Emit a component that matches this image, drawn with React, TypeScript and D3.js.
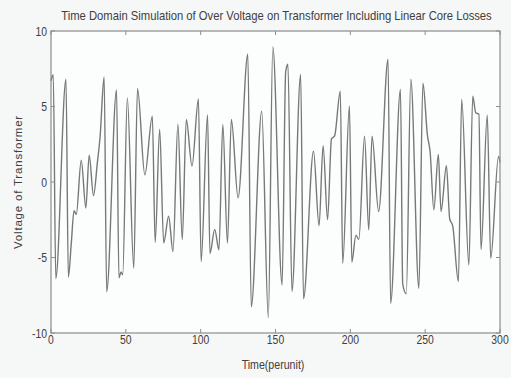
import React from "react";
import * as d3 from "d3";

const time: number[] = [
  0, 1.5, 3.2, 10, 11.6, 13.6, 15.4, 16.9, 20.2, 23.3, 25.5, 28.4, 31, 32.8, 35.5, 37.2,
  43.8, 45.4, 46.8, 47.9, 51, 55.3, 57.8, 62.7, 67.7, 69.6, 72.6, 75.3, 78.6, 81.5,
  84.8, 87.7, 90.4, 94.2, 98.5, 100.3, 104.6, 106.2, 109.4, 112.2, 114.8, 117.9,
  120.5, 125, 131.5, 133.8, 140.8, 145.2, 148.2, 154.4, 156.8, 158.3, 161, 166.8,
  168.7, 175.4, 179.1, 181.8, 184.8, 187.4, 189.5, 193.3, 194.9, 199.4, 201, 203.7,
  205.7, 209.5, 212.3, 214.5, 218.9, 225.2, 226.9, 233.5, 235, 237.4, 240.4, 245.8,
  248.5, 251.5, 253.3, 255.8, 258.8, 260.6, 264.2, 266.4, 268.4, 272.2, 274.4,
  279.2, 281.8, 283.8, 285.9, 287.3, 291.5, 293.8, 299, 300,
];

const voltage: number[] = [
  6.7, 7.1, -6.4, 6.8, -6.3, -4.0, -1.9, -2.15, 1.45, -1.72, 1.78, -0.9, 1.3, 3.0, 6.95, -7.27,
  6.1, -6.35, -5.95, -6.15, 5.57, -5.7, 6.2, 0.47, 4.36, -4.0, 3.5, -4.04, -2.27, -4.6,
  3.82, -3.82, 4.15, 1.05, 5.5, -5.27, 4.44, -4.74, -3.14, -4.49, 3.81, -4.05,
  4.14, -1.04, 8.46, -8.26, 4.69, -8.98, 8.95, -6.82, 7.3, 7.8, -7.24, 7.13,
  -7.73, 2.04, -2.9, 2.4, -2.5, 2.86, 3.05, 6.02, -5.38, 5.03, -5.32, -3.52,
  -3.8, 3.03, -3.17, 3.03, -1.95, 8.13, -8.04, 6.13, -6.76, -7.4, 6.8, -7.04,
  6.55, 3.1, 2.0, -1.84, 1.82, -1.95, 1.08, -2.45, -2.9, -6.6, 5.47,
  -5.49, 5.69, 4.58, 4.49, -4.47, 4.42, -5.05, 1.7, 1.3,
];

const xTicks: number[] = [0, 50, 100, 150, 200, 250, 300];
const yTicks: number[] = [-10, -5, 0, 5, 10];

const titleText = "Time Domain Simulation of Over Voltage on Transformer Including Linear Core Losses";
const xLabelText = "Time(perunit)";
const yLabelText = "Voltage of Transformer";

export default function App() {
  const W = 511;
  const H = 378;
  const left = 51;
  const right = 500;
  const top = 31;
  const bottom = 333;

  const x = d3.scaleLinear().domain([0, 300]).range([left, right]);
  const y = d3.scaleLinear().domain([-10, 10]).range([bottom, top]);

  const pts: [number, number][] = time.map((t, i) => [t, voltage[i]]);
  const line = d3
    .line<[number, number]>()
    .x((d) => x(d[0]))
    .y((d) => y(d[1]))
    .curve(d3.curveMonotoneX);

  const axisColor = "#8c8c8c";
  const textColor = "#404040";
  const font = "'Liberation Sans', Arial, sans-serif";
  const tl = 4;
  const sx = 0.8;

  return (
    <svg
      width={W}
      height={H}
      style={{ position: "absolute", left: 0, top: 0, background: "#f6f7f7" }}
    >
      <rect x={0} y={0} width={W} height={H} fill="#f6f7f7" />
      <rect x={left} y={top} width={right - left} height={bottom - top} fill="#fcfdfd" />
      <path d={line(pts) || ""} fill="none" stroke="#787878" strokeWidth={1.4} strokeLinejoin="round" />
      <rect x={left} y={top} width={right - left} height={bottom - top} fill="none" stroke={axisColor} strokeWidth={1.2} />
      {xTicks.map((t) => (
        <g key={"x" + t}>
          <line x1={x(t)} x2={x(t)} y1={bottom} y2={bottom - tl} stroke={axisColor} />
          <line x1={x(t)} x2={x(t)} y1={top} y2={top + tl} stroke={axisColor} />
          <g transform={`translate(${x(t)}, 344) scale(${sx}, 1)`}>
            <text x={0} y={0} textAnchor="middle" fontFamily={font} fontSize={13} fill={textColor}>
              {t}
            </text>
          </g>
        </g>
      ))}
      {yTicks.map((t) => (
        <g key={"y" + t}>
          <line x1={left} x2={left + tl} y1={y(t)} y2={y(t)} stroke={axisColor} />
          <line x1={right} x2={right - tl} y1={y(t)} y2={y(t)} stroke={axisColor} />
          <g transform={`translate(47, ${y(t) + 4.5}) scale(${sx}, 1)`}>
            <text x={0} y={0} textAnchor="end" fontFamily={font} fontSize={13} fill={textColor}>
              {t}
            </text>
          </g>
        </g>
      ))}
      <g transform={`translate(${(60 + 493) / 2}, 20) scale(0.9, 1)`}>
        <text x={0} y={0} textAnchor="middle" fontFamily={font} fontSize={12.5} fill={textColor}>
          {titleText}
        </text>
      </g>
      <g transform="translate(273, 369) scale(0.85, 1)">
        <text x={0} y={0} textAnchor="middle" fontFamily={font} fontSize={12.5} fill={textColor}>
          {xLabelText}
        </text>
      </g>
      <text
        transform={`translate(22, ${(top + bottom) / 2}) rotate(-90)`}
        textAnchor="middle"
        fontFamily={font}
        fontSize={11.5}
        fill={textColor}
        letterSpacing={0.8}
      >
        {yLabelText}
      </text>
    </svg>
  );
}
